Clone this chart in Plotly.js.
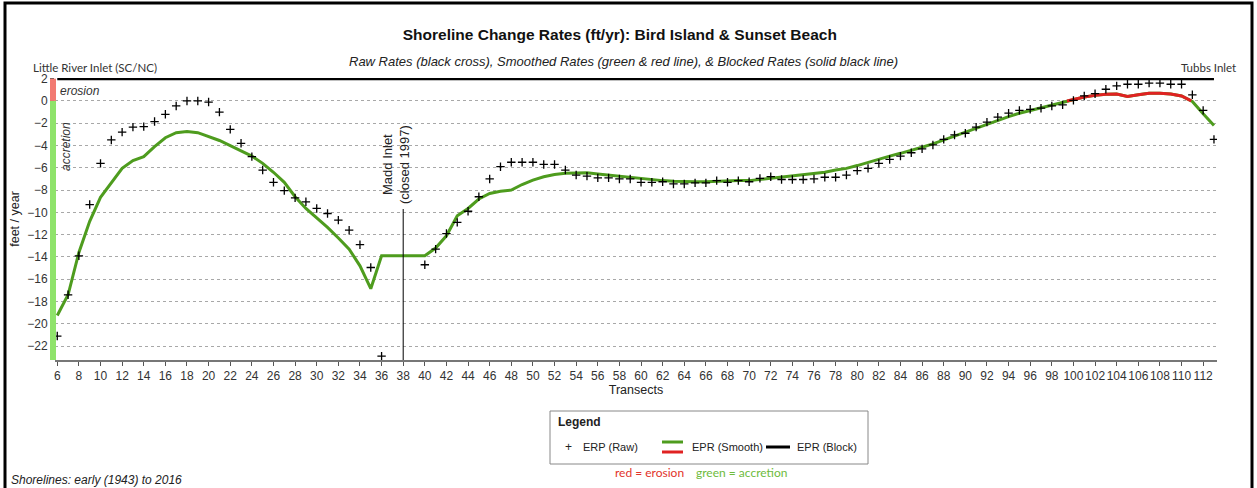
<!DOCTYPE html>
<html>
<head>
<meta charset="utf-8">
<script src="https://cdn.plot.ly/plotly-3.0.1.min.js"></script>
<style>html,body{margin:0;padding:0;background:#fff;}#chart{width:1257px;height:488px;}</style>
</head>
<body>
<div id="chart"></div>
<script>
// ---- Data ----
const transects = [6,7,8,9,10,11,12,13,14,15,16,17,18,19,20,21,22,23,24,25,26,27,28,29,30,31,32,33,34,35,36,37,38,39,40,
41,42,43,44,45,46,47,48,49,50,51,52,53,54,55,56,57,58,59,60,61,62,63,64,65,66,67,68,69,70,71,72,73,74,75,76,77,78,79,80,
81,82,83,84,85,86,87,88,89,90,91,92,93,94,95,96,97,98,99,100,101,102,103,104,105,106,107,108,109,110,111,112,113];

const erpRaw = [-21.1,-17.4,-13.9,-9.3,-5.6,-3.5,-2.8,-2.35,-2.3,-1.85,-1.2,-0.45,0.0,0.0,-0.1,-1.0,-2.55,-3.8,-5.0,-6.2,
-7.3,-8.05,-8.7,-9.05,-9.65,-10.1,-10.7,-11.6,-12.9,-14.95,-22.9,null,null,null,-14.7,
-13.3,-11.9,-10.9,-9.9,-8.6,-7.0,-5.9,-5.5,-5.5,-5.5,-5.7,-5.7,-6.2,-6.65,-6.75,-6.9,-6.9,-7.0,-7.0,-7.3,
-7.3,-7.25,-7.45,-7.45,-7.35,-7.35,-7.15,-7.3,-7.15,-7.25,-6.95,-6.8,-7.05,-7.05,-7.05,-7.0,-6.85,-6.85,-6.65,-6.25,
-6.05,-5.6,-5.25,-4.95,-4.65,-4.3,-3.95,-3.45,-3.05,-2.9,-2.35,-1.9,-1.45,-1.1,-0.85,-0.75,-0.65,-0.45,-0.35,0.05,
0.45,0.65,1.05,1.35,1.5,1.5,1.6,1.6,1.5,1.5,0.55,-0.85,-3.45];

const eprSmooth = [-19.25,-17.4,-13.6,-10.8,-8.65,-7.3,-6.05,-5.35,-5.0,-4.1,-3.3,-2.85,-2.75,-2.85,-3.2,-3.55,-4.0,-4.45,-4.95,-5.6,
-6.4,-7.3,-8.6,-9.65,-10.5,-11.35,-12.3,-13.3,-14.8,-16.85,-13.9,-13.9,-13.9,-13.9,-13.9,
-13.2,-12.1,-10.3,-9.65,-8.8,-8.3,-8.1,-8.0,-7.5,-7.1,-6.8,-6.6,-6.5,-6.45,-6.45,-6.55,-6.65,-6.75,-6.9,-7.0,
-7.05,-7.15,-7.2,-7.25,-7.25,-7.25,-7.2,-7.2,-7.15,-7.15,-7.05,-6.95,-6.85,-6.75,-6.65,-6.5,-6.4,-6.2,-6.05,-5.8,
-5.5,-5.25,-4.95,-4.7,-4.45,-4.15,-3.85,-3.5,-3.1,-2.75,-2.4,-2.05,-1.75,-1.4,-1.1,-0.85,-0.6,-0.35,-0.1,0.15,
0.35,0.5,0.6,0.62,0.4,0.55,0.7,0.7,0.62,0.45,-0.05,-1.15,-2.2];

const eprBlock = transects.map(() => 2);

const yTicks = [-22,-20,-18,-16,-14,-12,-10,-8,-6,-4,-2,0,2];

// ---- red (erosion) part of the smoothed line: values >= 0, split at zero crossings ----
const redX = [], redY = [];
for (let i = 0; i < transects.length; i++) {
  const v = eprSmooth[i];
  if (i > 0) {
    const p = eprSmooth[i-1];
    if ((p < 0 && v >= 0) || (p >= 0 && v < 0)) {
      const t = p / (p - v);
      const xc = transects[i-1] + t * (transects[i] - transects[i-1]);
      redX.push(xc); redY.push(0);
      if (v < 0) { redX.push(null); redY.push(null); }
    }
  }
  if (v >= 0) { redX.push(transects[i]); redY.push(v); }
}

// ---- Geometry ----
const W = 1257, H = 488, ML = 55, MR = 40, MT = 78, MB = 128;
const PW = W - ML - MR, PH = H - MT - MB;
const px = x => (x - ML) / PW;
const py = y => (H - MB - y) / PH;

const FONT = 'Liberation Sans, Arial, sans-serif';
const CAL = 'Lato, Liberation Sans, sans-serif';

const traces = [
  { x: transects, y: eprBlock, mode: 'lines', line: {color: '#000', width: 3}, name: 'EPR (Block)', cliponaxis: false },
  { x: transects, y: eprSmooth, mode: 'lines', line: {color: '#4e9c1e', width: 3}, name: 'EPR (Smooth)' },
  { x: redX, y: redY, mode: 'lines', line: {color: '#e02222', width: 3}, name: 'EPR (Smooth, erosion)', connectgaps: false },
  { x: transects, y: erpRaw, mode: 'markers', marker: {symbol: 'cross-thin', size: 6, line: {color: '#000', width: 1.3}, color: '#000'}, name: 'ERP (Raw)' }
];

const ann = (text, x, y, opts) => Object.assign({
  text, x: px(x), y: py(y), xref: 'paper', yref: 'paper', showarrow: false,
  xanchor: 'left', yanchor: 'middle', font: {family: FONT, size: 11, color: '#222'}
}, opts || {});

const annotations = [
  ann('<i>Raw Rates (black cross), Smoothed Rates (green &amp; red line), &amp; Blocked Rates (solid black line)</i>', 623, 62, {xanchor: 'center', font: {family: FONT, size: 13, color: '#222'}}),
  ann('Little River Inlet (SC/NC)', 31, 67, {font: {family: CAL, size: 11.5, color: '#333'}}),
  ann('Tubbs Inlet', 1238, 67, {xanchor: 'right', font: {family: CAL, size: 11.5, color: '#333'}}),
  ann('<i>erosion</i>', 58, 91, {font: {family: FONT, size: 12, color: '#333'}}),
  ann('<i>accretion</i>', 66, 147, {xanchor: 'center', textangle: -90, font: {family: FONT, size: 12, color: '#333'}}),
  ann('Madd Inlet<br>(closed 1997)', 396, 165, {xanchor: 'center', textangle: -90, font: {family: FONT, size: 13, color: '#222'}}),
  ann('<b>Legend</b>', 556, 422, {font: {family: FONT, size: 12, color: '#222'}}),
  ann('+', 563, 447, {font: {family: FONT, size: 12, color: '#222'}}),
  ann('ERP (Raw)', 581, 447, {font: {family: FONT, size: 11, color: '#222'}}),
  ann('EPR (Smooth)', 690, 447, {font: {family: FONT, size: 11, color: '#222'}}),
  ann('EPR (Block)', 795, 447, {font: {family: FONT, size: 11, color: '#222'}}),
  ann('red = erosion', 613, 472, {font: {family: CAL, size: 12, color: '#e2332a'}}),
  ann('green = accretion', 694, 472, {font: {family: CAL, size: 12, color: '#6dbb3c'}}),
  ann('<i>Shorelines: early (1943) to 2016</i>', 9, 480, {font: {family: FONT, size: 12, color: '#222'}})
];

const shapes = [
  // outer frame
  {type: 'rect', xref: 'paper', yref: 'paper', x0: px(5), x1: px(1252), y0: py(495), y1: py(3), line: {color: '#000', width: 3}, layer: 'above'},
  // left erosion / accretion bar
  {type: 'rect', xref: 'paper', yref: 'y', x0: px(50), x1: px(56), y0: 0, y1: 2, fillcolor: '#f27a72', line: {width: 0}, layer: 'above'},
  {type: 'rect', xref: 'paper', yref: 'y', x0: px(50), x1: px(56), y0: -23.25, y1: 0, fillcolor: '#8fe36b', line: {width: 0}, layer: 'above'},
  // Madd Inlet marker line
  {type: 'line', xref: 'x', yref: 'y', x0: 38, x1: 38, y0: -9.7, y1: -23.25, line: {color: '#000', width: 1}},
  // legend box
  {type: 'rect', xref: 'paper', yref: 'paper', x0: px(550), x1: px(868), y0: py(464), y1: py(411), line: {color: '#888', width: 1}, fillcolor: 'rgba(0,0,0,0)'},
  {type: 'line', xref: 'paper', yref: 'paper', x0: px(662), x1: px(683), y0: py(442), y1: py(442), line: {color: '#4e9c1e', width: 3}},
  {type: 'line', xref: 'paper', yref: 'paper', x0: px(662), x1: px(683), y0: py(452), y1: py(452), line: {color: '#e02222', width: 3}},
  {type: 'line', xref: 'paper', yref: 'paper', x0: px(766), x1: px(790), y0: py(447), y1: py(447), line: {color: '#000', width: 3}}
];

const layout = {
  width: W, height: H,
  margin: {l: ML, r: MR, t: MT, b: MB, pad: 0},
  paper_bgcolor: '#fff', plot_bgcolor: '#fff',
  showlegend: false, hovermode: false,
  title: {text: '<b>Shoreline Change Rates (ft/yr): Bird Island &amp; Sunset Beach</b>',
          x: 611 / W, y: 1 - 35 / H, xref: 'paper', xanchor: 'center', yanchor: 'middle',
          font: {family: FONT, size: 15.5, color: '#111'}},
  xaxis: {
    range: [5.79, 113.28], tickmode: 'array', tickvals: transects.filter(t => t % 2 === 0 && t <= 112),
    tickangle: 0,
    ticks: 'outside', ticklen: 4, tickcolor: '#555', showline: true, linecolor: '#777', linewidth: 1.5,
    showgrid: false, zeroline: false,
    tickfont: {family: FONT, size: 12, color: '#333'},
    title: {text: 'Transects', standoff: 3, font: {family: FONT, size: 12.5, color: '#222'}}
  },
  yaxis: {
    range: [-23.25, 2.06], tickmode: 'array', tickvals: yTicks,
    ticks: 'outside', ticklen: 4, tickcolor: '#555', showline: false,
    showgrid: true, gridcolor: '#a8a8a8', griddash: 'dot', gridwidth: 1, zeroline: false,
    tickfont: {family: FONT, size: 12, color: '#333'},
    title: {text: 'feet / year', standoff: 4, font: {family: FONT, size: 12.5, color: '#222'}}
  },
  annotations, shapes
};

Plotly.newPlot('chart', traces, layout, {displayModeBar: false, staticPlot: true});
</script>
</body>
</html>
